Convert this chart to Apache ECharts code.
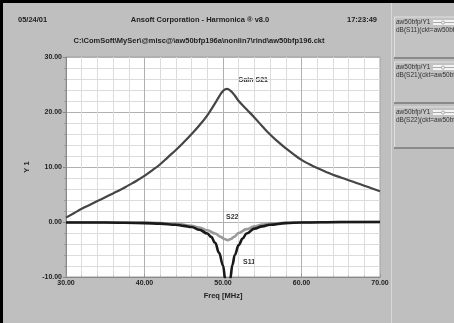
<!DOCTYPE html>
<html><head><meta charset="utf-8">
<script src="https://cdn.jsdelivr.net/npm/echarts@6/dist/echarts.min.js"></script>
<style>html,body{margin:0;padding:0;background:#bfbfbf}#c{width:454px;height:323px}</style>
</head><body><div id="c"></div>
<script>
// ---- data ----
const xTicks = ['30.00','40.00','50.00','60.00','70.00'];
const yTicks = ['-10.00','0.00','10.00','20.00','30.00'];

const s21Freq = [30,31,32,33,34,35,36,37,38,39,40,41,42,43,44,45,46,47,48,49,49.5,50,50.5,51,51.5,52,53,54,55,56,57,58,59,60,61,62,63,64,65,66,67,68,69,70];
const s21Val  = [0.8,1.6,2.4,3.1,3.8,4.5,5.2,5.9,6.7,7.5,8.4,9.4,10.5,11.8,13.1,14.5,16.0,17.6,19.4,21.6,22.8,23.8,24.2,23.8,23.0,22.0,20.5,19.0,17.4,15.9,14.6,13.4,12.3,11.3,10.5,9.8,9.2,8.6,8.1,7.6,7.1,6.6,6.1,5.6];

const s11Freq = [30,35,40,42,44,45,46,47,48,48.5,49,49.5,50,50.3,50.6,50.9,51.2,51.5,52,52.5,53,54,55,56,58,60,65,70];
const s11Val  = [-0.1,-0.1,-0.2,-0.3,-0.5,-0.7,-0.9,-1.4,-2.1,-2.7,-3.8,-5.6,-7.9,-10.5,-14,-10.5,-7.8,-6.0,-4.2,-3.0,-2.1,-1.2,-0.8,-0.5,-0.2,-0.1,0,0];

const s22Freq = [30,40,44,46,47,48,49,49.7,50.2,50.6,51,51.4,52,53,54,55,56,60,70];
const s22Val  = [-0.05,-0.1,-0.3,-0.7,-1.0,-1.5,-2.1,-2.7,-3.1,-3.3,-3.1,-2.7,-2.0,-1.3,-0.8,-0.45,-0.25,-0.05,0];

const pairs = (f, v) => f.map((x, i) => [x, v[i]]);
const FONT = '"Liberation Sans", Arial, sans-serif';
const txt = (x, y, s, opt) => Object.assign({type:'text', x, y, style:Object.assign({text:s, fill:'#222', font:'bold 7.5px ' + FONT}, opt||{})});

const chart = echarts.init(document.getElementById('c'), null, {renderer:'canvas'});

const legendBox = (y, name) => ([
  {type:'rect', shape:{x:394, y:y, width:62, height:41}, style:{fill:'#c2c2c2', stroke:null}},
  {type:'line', shape:{x1:394, y1:y, x2:454, y2:y}, style:{stroke:'#e0e0e0', lineWidth:1}},
  {type:'line', shape:{x1:394.5, y1:y, x2:394.5, y2:y+41}, style:{stroke:'#e0e0e0', lineWidth:1}},
  {type:'line', shape:{x1:394, y1:y+41, x2:454, y2:y+41}, style:{stroke:'#8a8a8a', lineWidth:2}},
  {type:'rect', shape:{x:433, y:y+3, width:22, height:5}, style:{fill:'#f4f4f4'}},
  {type:'line', shape:{x1:433, y1:y+5.5, x2:454, y2:y+5.5}, style:{stroke:'#aaa', lineWidth:1}},
  {type:'circle', shape:{cx:443, cy:y+5.5, r:1.6}, style:{fill:'#f4f4f4', stroke:'#999', lineWidth:0.8}},
  txt(396, y+2, 'aw50bfp/Y1', {font:'6.5px ' + FONT, fill:'#333'}),
  txt(396, y+10, name + '(ckt=aw50bfp196.ckt)', {font:'6.5px ' + FONT, fill:'#333'})
]);

chart.setOption({
  backgroundColor:'#bfbfbf',
  animation:false,
  grid:{left:66, top:57, right:74, bottom:46, show:true, backgroundColor:'#ffffff', borderColor:'#a0a0a0', borderWidth:1},
  xAxis:{
    type:'value', min:30, max:70, interval:10,
    name:'Freq [MHz]', nameLocation:'middle', nameGap:13,
    nameTextStyle:{fontFamily:FONT, fontWeight:'bold', fontSize:7.5, color:'#222'},
    axisLine:{show:true, onZero:false, lineStyle:{color:'#888', width:1}},
    axisTick:{show:true, inside:true, length:3, lineStyle:{color:'#999'}},
    minorTick:{show:true, splitNumber:5, length:2, lineStyle:{color:'#bbb'}},
    axisLabel:{fontFamily:FONT, fontWeight:'bold', fontSize:7, color:'#222', margin:3,
      formatter:v => xTicks[Math.round((v-30)/10)]},
    splitLine:{show:true, lineStyle:{color:'#b0b0b0', width:1}},
    minorSplitLine:{show:true, lineStyle:{color:'#dcdcdc', width:1}}
  },
  yAxis:{
    type:'value', min:-10, max:30, interval:10,
    name:'Y 1', nameLocation:'middle', nameGap:30, nameRotate:90,
    nameTextStyle:{fontFamily:FONT, fontWeight:'bold', fontSize:7.5, color:'#222'},
    axisLine:{show:true, onZero:false, lineStyle:{color:'#888', width:1}},
    axisTick:{show:true, inside:false, length:3, lineStyle:{color:'#888'}},
    minorTick:{show:true, splitNumber:5, length:2, lineStyle:{color:'#999'}},
    axisLabel:{fontFamily:FONT, fontWeight:'bold', fontSize:7, color:'#222', margin:4,
      formatter:v => yTicks[Math.round((v+10)/10)]},
    splitLine:{show:true, lineStyle:{color:'#b0b0b0', width:1}},
    minorSplitLine:{show:true, lineStyle:{color:'#dcdcdc', width:1}}
  },
  series:[
    {name:'dB(S21)', type:'line', data:pairs(s21Freq, s21Val), showSymbol:false, smooth:0.5, clip:true,
      lineStyle:{color:'#454545', width:2.2}},
    {name:'dB(S22)', type:'line', data:pairs(s22Freq, s22Val), showSymbol:false, smooth:0.4, smoothMonotone:'x', clip:true,
      lineStyle:{color:'#9a9a9a', width:2.6}},
    {name:'dB(S11)', type:'line', data:pairs(s11Freq, s11Val), showSymbol:false, smooth:0.4, smoothMonotone:'x', clip:true,
      lineStyle:{color:'#1a1a1a', width:2.6}}
  ],
  graphic:[
    {type:'rect', shape:{x:0, y:0, width:454, height:3}, style:{fill:'#000'}, z:100},
    {type:'rect', shape:{x:0, y:0, width:3, height:323}, style:{fill:'#000'}, z:100},
    {type:'line', shape:{x1:391.5, y1:3, x2:391.5, y2:323}, style:{stroke:'#d8d8d8', lineWidth:1}},
    ...legendBox(17, 'dB(S11)'),
    ...legendBox(62, 'dB(S21)'),
    ...legendBox(107, 'dB(S22)'),
    txt(18, 16, '05/24/01'),
    txt(200, 16, 'Ansoft Corporation - Harmonica ® v8.0', {textAlign:'center'}),
    txt(347, 16, '17:23:49'),
    txt(199, 37, 'C:\\ComSoft\\MySer\\@misc@\\aw50bfp196a\\nonlin7\\rind\\aw50bfp196.ckt', {textAlign:'center', font:'bold 7.5px ' + FONT}),
    txt(238, 77, 'Gain S21', {font:'bold 7px ' + FONT, fill:'#333'}),
    txt(226, 214, 'S22', {font:'bold 7px ' + FONT, fill:'#333'}),
    txt(243, 259, 'S11', {font:'bold 7px ' + FONT, fill:'#333'})
  ]
});
</script></body></html>
